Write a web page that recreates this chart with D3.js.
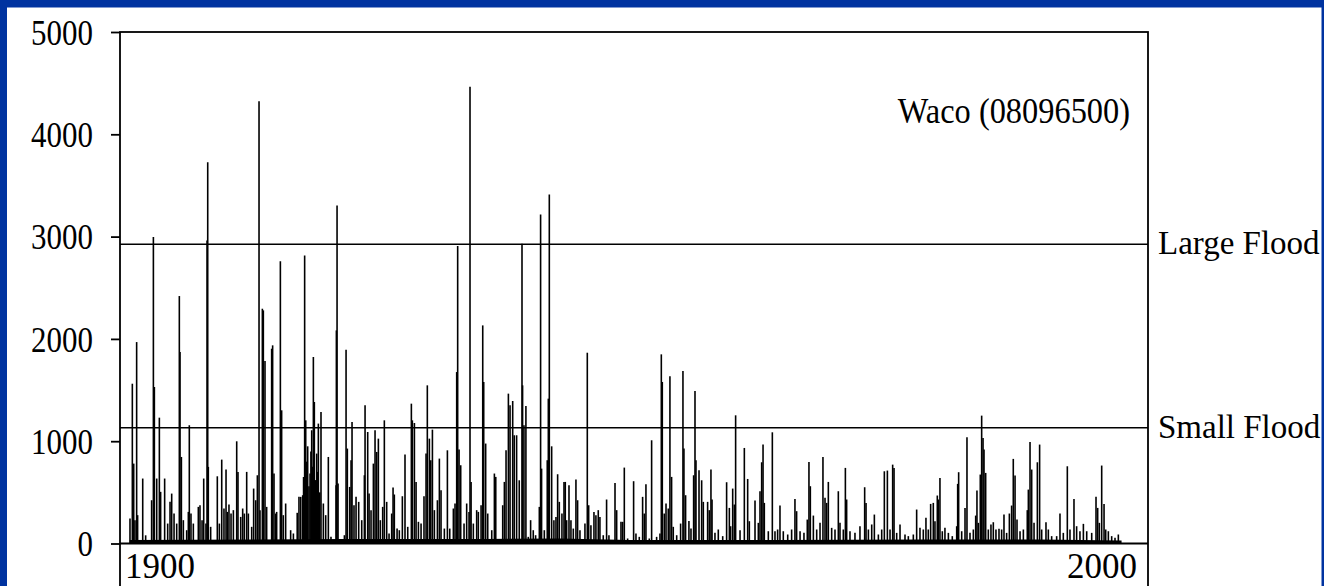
<!DOCTYPE html>
<html>
<head>
<meta charset="utf-8">
<script src="https://cdn.jsdelivr.net/npm/d3@7"></script>
<style>
  body { margin: 0; background: #0033a0; }
  svg { display: block; }
  text { font-family: "Liberation Serif", "Times New Roman", serif; fill: #000; }
</style>
</head>
<body>
<div id="chart"></div>
<script>
// Waco (08096500) daily discharge, peaks (year, flow)
const spikeYears = [
  1899.02, 1899.26, 1899.40, 1899.53, 1899.70, 1899.80, 1900.32, 1900.62, 1901.23, 1901.41,
  1901.51, 1901.75, 1902.02, 1902.15, 1902.56, 1902.87, 1903.11, 1903.28, 1903.52, 1903.79,
  1904.06, 1904.13, 1904.27, 1904.47, 1904.81, 1904.98, 1905.08, 1905.25, 1905.49, 1906.00,
  1906.17, 1906.38, 1906.55, 1906.78, 1906.89, 1906.96, 1907.02, 1907.26, 1907.94, 1908.15,
  1908.39, 1908.62, 1908.83, 1908.96, 1909.13, 1909.34, 1909.58, 1909.92, 1910.05, 1910.33,
  1910.53, 1910.70, 1910.94, 1911.11, 1911.45, 1911.65, 1911.86, 1912.03, 1912.20, 1912.30,
  1912.54, 1912.64, 1912.81, 1912.98, 1913.49, 1913.59, 1913.73, 1913.90, 1914.00, 1914.38,
  1914.51, 1914.68, 1914.92, 1915.43, 1915.71, 1916.10, 1916.28, 1916.46, 1916.66, 1916.75,
  1916.86, 1916.97, 1917.05, 1917.17, 1917.30, 1917.41, 1917.50, 1917.58, 1917.65, 1917.75,
  1917.85, 1917.95, 1918.09, 1918.15, 1918.26, 1918.40, 1918.53, 1918.77, 1919.01, 1919.28,
  1919.55, 1920.07, 1920.10, 1920.17, 1920.27, 1920.92, 1921.09, 1921.22, 1921.46, 1921.60,
  1921.70, 1921.90, 1922.11, 1922.38, 1922.69, 1922.96, 1923.03, 1923.30, 1923.44, 1923.64,
  1923.88, 1924.05, 1924.22, 1924.39, 1924.59, 1924.83, 1925.00, 1925.24, 1925.48, 1925.75,
  1925.89, 1926.02, 1926.30, 1926.53, 1926.84, 1927.11, 1927.39, 1927.76, 1927.86, 1928.07,
  1928.24, 1928.48, 1928.75, 1929.05, 1929.26, 1929.39, 1929.60, 1929.74, 1929.91, 1930.11,
  1930.42, 1930.62, 1930.79, 1931.13, 1931.44, 1931.68, 1932.05, 1932.22, 1932.39, 1932.49,
  1932.63, 1932.80, 1933.14, 1933.41, 1933.65, 1933.75, 1933.86, 1934.09, 1934.43, 1934.60,
  1934.88, 1935.05, 1935.15, 1935.35, 1935.56, 1935.97, 1936.24, 1936.38, 1936.82, 1937.09,
  1937.26, 1937.43, 1937.67, 1937.84, 1938.11, 1938.27, 1938.51, 1938.78, 1939.06, 1939.12,
  1939.26, 1939.46, 1939.70, 1939.94, 1940.21, 1940.45, 1940.83, 1940.96, 1941.06, 1941.34,
  1941.64, 1941.75, 1941.85, 1942.09, 1942.32, 1942.53, 1942.70, 1942.87, 1943.14, 1943.35,
  1943.48, 1943.62, 1943.86, 1944.06, 1944.30, 1944.57, 1944.74, 1944.98, 1945.49, 1945.73,
  1945.87, 1946.10, 1946.41, 1946.61, 1946.85, 1947.02, 1947.36, 1947.70, 1947.94, 1948.56,
  1948.73, 1949.17, 1949.34, 1949.51, 1949.85, 1950.09, 1950.46, 1950.70, 1951.04, 1951.38,
  1951.55, 1951.72, 1952.06, 1952.30, 1952.81, 1953.15, 1953.29, 1953.39, 1953.59, 1953.77,
  1954.00, 1954.17, 1954.34, 1954.51, 1954.86, 1955.26, 1955.50, 1955.60, 1955.77, 1956.11,
  1956.32, 1956.59, 1956.73, 1956.83, 1957.14, 1957.41, 1957.58, 1958.02, 1958.19, 1958.36,
  1958.47, 1958.77, 1959.11, 1959.56, 1959.96, 1960.24, 1960.37, 1960.58, 1960.75, 1960.88,
  1961.33, 1961.77, 1962.11, 1962.28, 1962.86, 1963.20, 1963.37, 1963.54, 1963.68, 1963.81,
  1964.22, 1964.63, 1964.90, 1965.17, 1965.41, 1965.75, 1966.20, 1966.60, 1966.94, 1967.11,
  1967.46, 1967.86, 1968.20, 1968.37, 1968.51, 1968.82, 1969.16, 1969.50, 1969.80, 1970.01,
  1970.18, 1970.35, 1970.69, 1971.03, 1971.37, 1971.54, 1971.88, 1972.09, 1972.22, 1972.56,
  1973.07, 1973.58, 1974.06, 1974.20, 1974.44, 1974.78, 1975.05, 1975.46, 1975.80, 1976.07,
  1976.38, 1976.65, 1976.92, 1977.06, 1977.33, 1977.67, 1978.18, 1978.52, 1979.03, 1979.37,
  1979.71, 1980.05, 1980.32, 1980.56, 1980.80, 1981.07, 1981.24, 1981.48, 1981.58, 1981.75,
  1981.99, 1982.26, 1982.61, 1983.01, 1983.46, 1983.56, 1983.66, 1983.97, 1984.31, 1984.51,
  1984.82, 1985.16, 1985.40, 1985.53, 1985.67, 1985.87, 1986.01, 1986.15, 1986.25, 1986.42,
  1986.69, 1986.96, 1987.20, 1987.47, 1987.78, 1988.05, 1988.29, 1988.56, 1988.84, 1989.07,
  1989.24, 1989.42, 1989.62, 1989.93, 1990.27, 1990.67, 1990.78, 1990.95, 1991.12, 1991.36,
  1991.70, 1991.93, 1992.14, 1992.58, 1992.82, 1993.16, 1993.67, 1994.01, 1994.35, 1994.76,
  1995.03, 1995.44, 1995.71, 1996.05, 1996.40, 1996.74, 1997.25, 1997.69, 1997.86, 1998.03,
  1998.27, 1998.51, 1998.68, 1998.95, 1999.29, 1999.63, 1999.97
];
const spikeFlows = [
  244, 1562, 781, 228, 1969, 277, 635, 80, 423, 2995,
  1530, 635, 1230, 505, 635, 195, 407, 488, 293, 195,
  2419, 1872, 846, 228, 130, 309, 1156, 293, 195, 358,
  374, 228, 635, 195, 2962, 3727, 749, 163, 657, 195,
  820, 342, 723, 309, 381, 293, 326, 999, 700, 260,
  342, 293, 700, 293, 163, 537, 423, 667, 4323, 326,
  2295, 2279, 1784, 358, 1904, 1937, 684, 293, 309, 2760,
  1302, 277, 391, 130, 98, 300, 456, 456, 472, 650,
  2816, 1204, 800, 950, 560, 684, 900, 1107, 750, 1823,
  1383, 620, 879, 700, 1172, 500, 1286, 391, 277, 846,
  65, 570, 2083, 3304, 586, 81, 1894, 928, 553, 814,
  1188, 374, 456, 407, 228, 667, 1351, 1090, 488, 326,
  781, 1107, 895, 1025, 228, 358, 1204, 407, 98, 293,
  547, 479, 146, 130, 462, 869, 163, 1367, 1204, 1178,
  602, 212, 195, 462, 879, 1546, 1025, 814, 1113, 326,
  423, 830, 521, 146, 911, 146, 342, 391, 1676, 2907,
  918, 765, 195, 391, 309, 4466, 602, 195, 326, 309,
  374, 2132, 1579, 977, 293, 130, 684, 651, 33, 374,
  602, 911, 1465, 1351, 1393, 1058, 1058, 618, 2930, 1546,
  1156, 1344, 65, 228, 130, 81, 358, 3216, 732, 130,
  814, 1416, 3411, 950, 228, 260, 677, 407, 293, 602,
  602, 228, 570, 228, 146, 625, 423, 130, 195, 1865,
  374, 179, 309, 277, 326, 260, 81, 430, 81, 592,
  326, 212, 212, 742, 49, 33, 609, 98, 65, 456,
  293, 579, 49, 1009, 65, 98, 1849, 1579, 293, 391,
  342, 1634, 651, 163, 81, 195, 1686, 928, 472, 221,
  146, 667, 1491, 814, 716, 618, 407, 407, 326, 723,
  430, 104, 137, 72, 599, 348, 169, 537, 381, 1253,
  130, 934, 631, 218, 420, 202, 511, 794, 967, 397,
  120, 1087, 120, 137, 371, 120, 88, 137, 436, 316,
  120, 104, 234, 797, 560, 273, 137, 202, 846, 446,
  397, 602, 153, 137, 511, 202, 137, 739, 430, 120,
  104, 169, 550, 397, 137, 186, 283, 88, 137, 706,
  713, 137, 771, 739, 104, 186, 88, 72, 88, 332,
  153, 137, 251, 137, 387, 397, 218, 469, 430, 641,
  120, 153, 104, 72, 169, 583, 697, 120, 348, 1038,
  104, 137, 273, 518, 202, 674, 1250, 1032, 918, 690,
  137, 186, 208, 137, 143, 137, 283, 104, 293, 371,
  827, 664, 234, 120, 137, 326, 527, 993, 723, 202,
  794, 967, 137, 208, 137, 72, 72, 293, 104, 755,
  137, 436, 169, 120, 192, 120, 104, 456, 348, 202,
  762, 387, 137, 120, 72, 55, 88
];

// low-flow band along the bottom of the record
const baseYears = [1899.0, 1912.0, 1921.0, 1935.0, 1943.0, 1950.0, 1965.0, 1980.0, 1992.0, 2000.3];
const baseFlows = [35, 40, 45, 45, 50, 35, 35, 40, 40, 30];

// thresholds
const floodNames = ["Large Flood", "Small Flood"];
const floodFlows = [2925, 1131];

const yTicks = [0, 1000, 2000, 3000, 4000, 5000];
const xTickLabels = ["1900", "2000"];
const stationName = "Waco (08096500)";

const W = 1324, H = 586;
const plotLeft = 120, plotRight = 1148, plotTop = 32, plotZero = 543.5;

const svg = d3.select("#chart").append("svg")
  .attr("width", W)
  .attr("height", H);

// white slide panel
svg.append("rect")
  .attr("x", 7).attr("y", 7.5)
  .attr("width", 1314.5).attr("height", 600)
  .attr("fill", "#fff");

const x = d3.scaleLinear().domain([1898, 2003]).range([plotLeft, plotRight]);
const y = d3.scaleLinear().domain([0, 5000]).range([plotZero, plotTop]);

// low-flow band
svg.append("path")
  .datum(d3.zip(baseYears, baseFlows))
  .attr("fill", "#000")
  .attr("d", d3.area()
    .x(d => x(d[0]))
    .y0(y(0))
    .y1(d => y(d[1])));

// spikes
svg.append("g")
  .selectAll("line")
  .data(d3.zip(spikeYears, spikeFlows))
  .join("line")
  .attr("x1", d => x(d[0]))
  .attr("x2", d => x(d[0]))
  .attr("y1", y(0))
  .attr("y2", d => y(d[1]))
  .attr("stroke", "#000")
  .attr("stroke-width", 1.6);

// flood threshold lines + labels
floodFlows.forEach((f, i) => {
  svg.append("line")
    .attr("x1", plotLeft).attr("x2", plotRight)
    .attr("y1", y(f)).attr("y2", y(f))
    .attr("stroke", "#000")
    .attr("stroke-width", 1.6);
  svg.append("text")
    .attr("x", 1158)
    .attr("y", y(f) + 10)
    .attr("font-size", 33)
    .text(floodNames[i]);
});

// frame (runs past the bottom of the page, like the slide)
svg.append("rect")
  .attr("x", plotLeft).attr("y", plotTop)
  .attr("width", plotRight - plotLeft).attr("height", 600)
  .attr("fill", "none")
  .attr("stroke", "#000")
  .attr("stroke-width", 1.8);

// zero line
svg.append("line")
  .attr("x1", plotLeft).attr("x2", plotRight)
  .attr("y1", y(0)).attr("y2", y(0))
  .attr("stroke", "#000")
  .attr("stroke-width", 1.8);

// y axis
const yAxis = svg.append("g")
  .attr("transform", `translate(${plotLeft},0)`)
  .call(d3.axisLeft(y).tickValues(yTicks).tickSize(9).tickFormat(d3.format("d")));
yAxis.select(".domain").remove();
yAxis.selectAll(".tick line").attr("stroke", "#000").attr("stroke-width", 1.8);
yAxis.selectAll(".tick text")
  .attr("font-size", 36)
  .attr("font-family", "Liberation Serif, serif")
  .attr("fill", "#000")
  .attr("x", -31.5)
  .attr("dy", "0.34em")
  .attr("transform", "scale(0.86,1)");

// x labels at the ends of the record
svg.append("text")
  .attr("x", x(1898) + 5)
  .attr("y", 578)
  .attr("font-size", 35)
  .text(xTickLabels[0]);
svg.append("text")
  .attr("x", x(2003) - 11)
  .attr("y", 578)
  .attr("font-size", 35)
  .attr("text-anchor", "end")
  .text(xTickLabels[1]);

// station label
svg.append("text")
  .attr("transform", "translate(1130,123) scale(0.9,1)")
  .attr("text-anchor", "end")
  .attr("font-size", 36)
  .text(stationName);
</script>
</body>
</html>
